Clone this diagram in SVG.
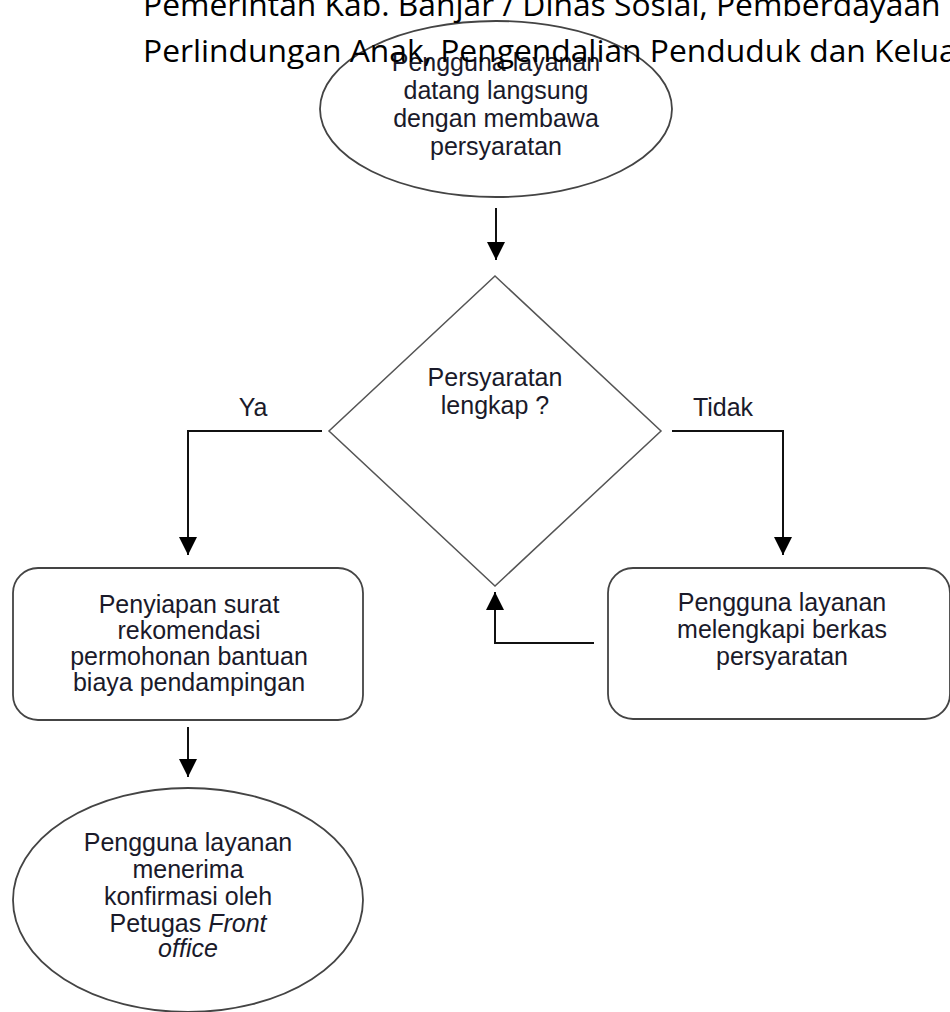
<svg xmlns="http://www.w3.org/2000/svg" width="950" height="1012" viewBox="0 0 950 1012">
<style>
.n{fill:#fff;stroke:#444;stroke-width:1.8}
.d{fill:#fff;stroke:#555;stroke-width:1.5}
.t{font-family:"Liberation Sans",Arial,sans-serif;font-size:25px;fill:#1a1a2a;text-anchor:middle}
.c{fill:none;stroke:#111;stroke-width:2}
.h{font-family:"Open Sans",sans-serif;font-size:31.8px;fill:#000}
</style>
<defs>
<marker id="ah" viewBox="0 0 18 20" refX="18" refY="10" markerWidth="18" markerHeight="20" markerUnits="userSpaceOnUse" orient="auto">
<path d="M0,1 L18,10 L0,19 Z" fill="#000"/>
</marker>
</defs>
<rect width="950" height="1012" fill="#fff"/>
<g id="start">
<ellipse class="n" cx="496" cy="109" rx="176" ry="88"/>
<text class="t" x="496" y="71">Pengguna layanan</text>
<text class="t" x="496" y="99">datang langsung</text>
<text class="t" x="496" y="127">dengan membawa</text>
<text class="t" x="496" y="155">persyaratan</text>
</g>
<g id="decision">
<polygon class="d" points="495,276 661,431 495,586 329,431"/>
<text class="t" x="495" y="386">Persyaratan</text>
<text class="t" x="495" y="414">lengkap ?</text>
</g>
<g id="prepare">
<rect class="n" x="13" y="568" width="350" height="152" rx="25"/>
<text class="t" x="189" y="613">Penyiapan surat</text>
<text class="t" x="189" y="639">rekomendasi</text>
<text class="t" x="189" y="665">permohonan bantuan</text>
<text class="t" x="189" y="691">biaya pendampingan</text>
</g>
<g id="complete">
<rect class="n" x="608" y="568" width="342" height="151" rx="25"/>
<text class="t" x="782" y="611">Pengguna layanan</text>
<text class="t" x="782" y="638">melengkapi berkas</text>
<text class="t" x="782" y="665">persyaratan</text>
</g>
<g id="end">
<ellipse class="n" cx="188" cy="900" rx="175" ry="112"/>
<text class="t" x="188" y="851">Pengguna layanan</text>
<text class="t" x="188" y="878">menerima</text>
<text class="t" x="188" y="905">konfirmasi oleh</text>
<text class="t" x="188" y="932">Petugas <tspan font-style="italic">Front</tspan></text>
<text class="t" x="188" y="957" font-style="italic">office</text>
</g>
<g id="connectors">
<path class="c" d="M496,208 V260" marker-end="url(#ah)"/>
<path class="c" d="M322,431 H188 V555" marker-end="url(#ah)"/>
<path class="c" d="M672,431 H783 V555" marker-end="url(#ah)"/>
<path class="c" d="M594,643 H495 V592" marker-end="url(#ah)"/>
<path class="c" d="M188,727 V777" marker-end="url(#ah)"/>
<text class="t" x="253" y="416">Ya</text>
<text class="t" x="723" y="416">Tidak</text>
</g>
<g id="header">
<text class="h" x="143" y="16">Pemerintah Kab. Banjar / Dinas Sosial, Pemberdayaan Perempuan dan</text>
<text class="h" x="143" y="62">Perlindungan Anak, Pengendalian Penduduk dan Keluarga Berencana</text>
</g>
</svg>
